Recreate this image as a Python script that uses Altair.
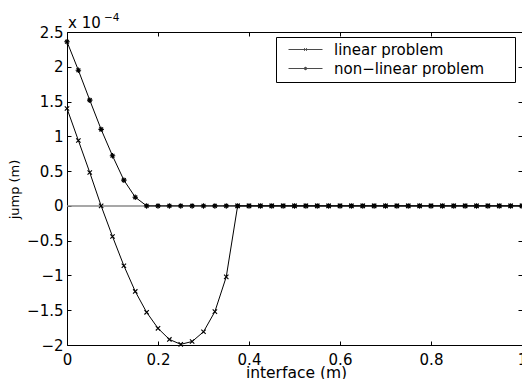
import altair as alt
import pandas as pd

# ---------------- data (values in units of 1e-4 m) ----------------
x_vals = [0.0, 0.025, 0.05, 0.075, 0.1, 0.125, 0.15, 0.175, 0.2, 0.225,
          0.25, 0.275, 0.3, 0.325, 0.35, 0.375, 0.4, 0.425, 0.45, 0.475,
          0.5, 0.525, 0.55, 0.575, 0.6, 0.625, 0.65, 0.675, 0.7, 0.725,
          0.75, 0.775, 0.8, 0.825, 0.85, 0.875, 0.9, 0.925, 0.95, 0.975, 1.0]
linear = [1.40, 0.94, 0.48, 0.00, -0.44, -0.86, -1.23, -1.53, -1.76, -1.92,
          -1.99, -1.95, -1.81, -1.52, -1.02, 0.00, 0.0, 0.0, 0.0, 0.0,
          0.0, 0.0, 0.0, 0.0, 0.0, 0.0, 0.0, 0.0, 0.0, 0.0,
          0.0, 0.0, 0.0, 0.0, 0.0, 0.0, 0.0, 0.0, 0.0, 0.0, 0.0]
nonlinear = [2.36, 1.95, 1.52, 1.10, 0.72, 0.37, 0.125, 0.0, 0.0, 0.0,
             0.0, 0.0, 0.0, 0.0, 0.0, 0.0, 0.0, 0.0, 0.0, 0.0,
             0.0, 0.0, 0.0, 0.0, 0.0, 0.0, 0.0, 0.0, 0.0, 0.0,
             0.0, 0.0, 0.0, 0.0, 0.0, 0.0, 0.0, 0.0, 0.0, 0.0, 0.0]
series_names = ["linear problem", "non\u2212linear problem"]
x_ticks = [0, 0.2, 0.4, 0.6, 0.8, 1]
y_ticks = [-2, -1.5, -1, -0.5, 0, 0.5, 1, 1.5, 2, 2.5]
zero_level = [0]
exp_base = ["x 10"]
exp_power = ["\u22124"]

rows = []
for name, vals in zip(series_names, [linear, nonlinear]):
    for xv, yv in zip(x_vals, vals):
        rows.append({"x": xv, "jump": yv, "series": name})
df = pd.DataFrame(rows)

FONT = "DejaVu Sans"
W, H = 455, 313

xs = alt.Scale(domain=[0, 1], nice=False, zero=False)
ys = alt.Scale(domain=[-2, 2.5], nice=False, zero=False)

base = alt.Chart(df)

tick_common = dict(labels=False, domain=False, ticks=True, tickSize=4,
                   tickColor="black", tickWidth=1, grid=False, title=None)

zero_rule = alt.Chart(pd.DataFrame({"y": zero_level})).mark_rule(
    color="#8a8a8a", strokeWidth=1.5
).encode(y=alt.Y("y:Q", scale=ys, axis=None))

lines = base.mark_line(color="black", strokeWidth=1).encode(
    x=alt.X("x:Q", scale=xs, axis=alt.Axis(
        orient="bottom", values=x_ticks, format="~g", ticks=False, tickSize=0,
        domain=False, grid=False, labelFont=FONT, labelFontSize=15,
        labelColor="black", labelPadding=7, labelFlush=False,
        title="interface (m)", titleFont=FONT, titleFontSize=15.5,
        titleFontWeight="normal", titleColor="black", titleX=229, titleY=32.5,
        titleAlign="center", titleBaseline="alphabetic")),
    y=alt.Y("jump:Q", scale=ys, axis=alt.Axis(
        orient="left", values=y_ticks, format="~g", ticks=False, tickSize=0,
        domain=False, grid=False, labelFont=FONT, labelFontSize=15,
        labelColor="black", labelPadding=4, labelFlush=False,
        title="jump (m)", titleFont=FONT, titleFontSize=13,
        titleFontWeight="normal", titleColor="black", titleX=-49, titleY=157,
        titleAlign="center", titleBaseline="alphabetic")),
    detail="series:N",
)

marker_paths = ["M-0.8,-0.8L0.8,0.8M-0.8,0.8L0.8,-0.8",
                "M-1,0L1,0M0,-1L0,1M-0.7,-0.7L0.7,0.7M-0.7,0.7L0.7,-0.7"]

points = base.mark_point(filled=False, color="black", strokeWidth=1.1, size=30, opacity=1).encode(
    x=alt.X("x:Q", scale=xs, axis=alt.Axis(orient="top", offset=-H, values=x_ticks, **tick_common)),
    y=alt.Y("jump:Q", scale=ys, axis=alt.Axis(orient="right", offset=-W, values=y_ticks, **tick_common)),
    shape=alt.Shape("series:N", scale=alt.Scale(domain=series_names, range=marker_paths), legend=None),
)

ticks_other = base.mark_point(opacity=0).encode(
    x=alt.X("x:Q", scale=xs, axis=alt.Axis(orient="bottom", offset=-H, values=x_ticks, **tick_common)),
    y=alt.Y("jump:Q", scale=ys, axis=alt.Axis(orient="left", offset=-W, values=y_ticks, **tick_common)),
)

legend_paths = ["M-1,0L1,0M-0.08,-0.08L0.08,0.08M-0.08,0.08L0.08,-0.08",
                "M-1,0L1,0M-0.1,0L0.1,0M0,-0.1L0,0.1M-0.07,-0.07L0.07,0.07M-0.07,0.07L0.07,-0.07"]

legend_layer = base.transform_filter("false").mark_point(
    filled=False, color="black", strokeWidth=1
).encode(
    x=alt.X("x:Q", scale=xs, axis=None),
    y=alt.Y("jump:Q", scale=ys, axis=None),
    shape=alt.Shape("series:N", scale=alt.Scale(domain=series_names, range=legend_paths),
                    legend=alt.Legend(
                        orient="none", legendX=209, legendY=5, direction="vertical",
                        strokeColor="black", fillColor="white", padding=5, cornerRadius=0,
                        symbolOffset=7, labelOffset=11, symbolSize=1156, clipHeight=15,
                        rowPadding=3, symbolStrokeWidth=1, symbolStrokeColor="black",
                        labelFont=FONT, labelFontSize=15, labelColor="black", labelLimit=400,
                        title="\u00a0", titleOrient="right", titlePadding=26,
                        titleFont=FONT, titleFontSize=15)),
)

txt_base = alt.Chart(pd.DataFrame({"t": exp_base})).mark_text(
    align="left", baseline="alphabetic", font=FONT, fontSize=15, color="black"
).encode(x=alt.value(1), y=alt.value(-4), text="t:N")

txt_pow = alt.Chart(pd.DataFrame({"t": exp_power})).mark_text(
    align="left", baseline="alphabetic", font=FONT, fontSize=10.5, color="black"
).encode(x=alt.value(37), y=alt.value(-11.5), text="t:N")

chart = alt.layer(
    zero_rule, lines, points, ticks_other, legend_layer, txt_base, txt_pow
).resolve_scale(
    shape="independent"
).resolve_axis(
    x="independent", y="independent"
).properties(
    width=W, height=H,
    autosize=alt.AutoSizeParams(type="none"),
    padding={"left": 67, "top": 32, "right": 0, "bottom": 34},
    background="white",
).configure_view(stroke="black", strokeWidth=1)

chart.save("out.html", embed_options={"renderer": "svg", "actions": False})
